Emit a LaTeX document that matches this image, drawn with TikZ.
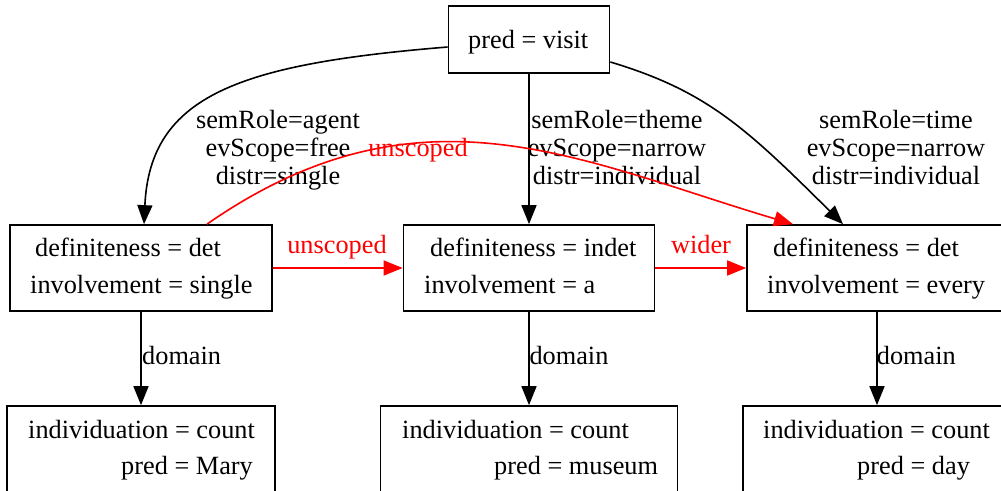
\documentclass[tikz,border=0pt]{standalone}
\usepackage{fontspec}
\setmainfont{Liberation Serif}
\usetikzlibrary{arrows.meta}
\begin{document}
\begin{tikzpicture}[x=1pt,y=-1pt,
  box/.style={draw, line width=1.7pt, rectangle, inner sep=0pt},
  txt/.style={inner sep=0pt, anchor=base west, font=\fontsize{26.3}{28}\selectfont},
  lbl/.style={inner sep=0pt, align=center, anchor=north, font=\fontsize{26.3}{28}\selectfont},
  elbl/.style={inner sep=0pt, anchor=base, font=\fontsize{26.3}{28}\selectfont},
  edge/.style={line width=1.6pt, -{Triangle[length=19pt,width=15pt]}},
  redge/.style={edge, red},
]
\useasboundingbox (0,0) rectangle (1001,490);
\clip (0,0) rectangle (1001,490);

% boxes
\node[box, minimum width=161pt, minimum height=67pt] (T) at (529,39.5) {};
\node[box, minimum width=262pt, minimum height=86pt] (A) at (141,268) {};
\node[box, minimum width=251pt, minimum height=86pt] (B) at (529,268) {};
\node[box, minimum width=260pt, minimum height=86pt] (C) at (877,268) {};
\node[box, minimum width=268pt, minimum height=86pt] (D) at (141,449) {};
\node[box, minimum width=297pt, minimum height=86pt] (E) at (529,449) {};
\node[box, minimum width=268pt, minimum height=86pt] (F) at (877,449) {};

% box contents
\node[txt] (T1) at (468,48) {pred = visit};
\node[txt] (A1) at (35,256) {definiteness = det};
\node[txt] (A2) at (30,293) {involvement = single};
\node[txt] (B1) at (430,256) {definiteness = indet};
\node[txt] (B2) at (424,293) {involvement = a};
\node[txt] (C1) at (773,256) {definiteness = det};
\node[txt] (C2) at (767,293) {involvement = every};
\node[txt] (D1) at (28,438) {individuation = count};
\node[txt] (D2) at (121,474) {pred = Mary};
\node[txt] (E1) at (402,438) {individuation = count};
\node[txt] (E2) at (494,474) {pred = museum};
\node[txt] (F1) at (763,438) {individuation = count};
\node[txt] (F2) at (857,474) {pred = day};

% role edges
\draw[edge] ([yshift=-7.5pt]T.west) .. controls (240,64) and (150,95) .. ([xshift=3pt]A.north);
\draw[edge] (T.south) -- (B.north);
\draw[edge] ([yshift=-22.5pt]T.east) .. controls (707,91) and (746,128) .. ([xshift=-34pt]C.north);
\node[lbl] (LA) at (278,110.3) {semRole=agent\\evScope=free\\distr=single};
\node[lbl] (LB) at (617,110.3) {semRole=theme\\evScope=narrow\\distr=individual};
\node[lbl] (LC) at (896,110.3) {semRole=time\\evScope=narrow\\distr=individual};

% scope edges
\draw[redge] ([xshift=66pt]A.north) .. controls (420,76) and (580,161) .. ([xshift=-84pt]C.north);
\draw[redge] (A.east) -- (B.west);
\draw[redge] (B.east) -- (C.west);
\node[elbl, red] (S1) at (418,156) {unscoped};
\node[elbl, red] (S2) at (337,253) {unscoped};
\node[elbl, red] (S3) at (701,253) {wider};

% domain edges
\draw[edge] (A.south) -- (D.north);
\draw[edge] (B.south) -- (E.north);
\draw[edge] (C.south) -- (F.north);
\node[txt] (M1) at (142,364) {domain};
\node[txt] (M2) at (529.3,364) {domain};
\node[txt] (M3) at (876.7,364) {domain};
\end{tikzpicture}
\end{document}
